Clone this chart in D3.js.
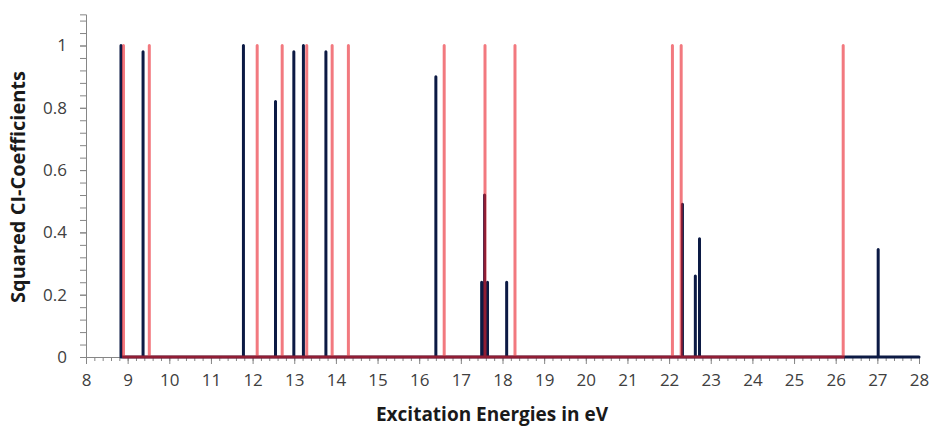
<!DOCTYPE html>
<html>
<head>
<meta charset="utf-8">
<script src="https://cdn.jsdelivr.net/npm/d3@7"></script>
<style>
  body { margin: 0; background: #fff; }
  text { font-family: "Open Sans", "Noto Sans", sans-serif; }
</style>
</head>
<body>
<div id="chart"></div>
<script>
// navy series: excitation energies (eV) and squared CI coefficients
var navyEnergies = [8.84, 9.37, 11.78, 12.55, 12.99, 13.22, 13.76, 16.40, 17.50, 17.57, 17.64, 18.10, 22.32, 22.63, 22.73, 27.02, 28.0];
var navyCoeffs   = [1.00, 0.98, 1.00, 0.82, 0.98, 1.00, 0.98, 0.90, 0.24, 0.52, 0.24, 0.24, 0.49, 0.26, 0.38, 0.345, 0];

// red series
var redEnergies = [8.90, 9.52, 12.11, 12.71, 13.30, 13.91, 14.30, 16.60, 17.58, 18.30, 22.08, 22.29, 26.18];
var redCoeffs   = [1, 1, 1, 1, 1, 1, 1, 1, 1, 1, 1, 1, 1];

var xTicks = d3.range(8, 29, 1);
var yTicks = [0, 0.2, 0.4, 0.6, 0.8, 1];

var svgWidth = 929, svgHeight = 430;

var svg = d3.select("#chart").append("svg")
  .attr("width", svgWidth)
  .attr("height", svgHeight);

var xScale = d3.scaleLinear().domain([8, 28]).range([86, 919]);
var yScale = d3.scaleLinear().domain([0, 1.1]).range([357, 357 - 311.5 * 1.1]);

var axisColor = "#868686";

// y axis: minor ticks every 0.04 then major labels
var yAxisMinor = d3.axisLeft(yScale)
  .tickValues(d3.range(0, 1.1, 0.04))
  .tickSize(6)
  .tickFormat("");
var gyMinor = svg.append("g")
  .attr("transform", "translate(" + xScale(8) + ",0)")
  .call(yAxisMinor);
gyMinor.select(".domain").attr("stroke", axisColor);
gyMinor.selectAll("line").attr("stroke", axisColor);

var yAxis = d3.axisLeft(yScale)
  .tickValues(yTicks)
  .tickSize(6)
  .tickPadding(13)
  .tickFormat(d3.format("~g"));
var gy = svg.append("g")
  .attr("transform", "translate(" + xScale(8) + ",0)")
  .call(yAxis);
gy.select(".domain").remove();
gy.selectAll("line").attr("stroke", axisColor);
gy.selectAll("text")
  .attr("fill", "#404040")
  .style("font-size", "17px")
  .style("font-family", "'Open Sans', sans-serif");

// x axis
var xAxisMinor = d3.axisBottom(xScale)
  .tickValues(d3.range(8, 28.01, 0.2))
  .tickSize(4)
  .tickFormat("");
var gxMinor = svg.append("g")
  .attr("transform", "translate(0," + yScale(0) + ")")
  .call(xAxisMinor);
gxMinor.select(".domain").attr("stroke", axisColor);
gxMinor.selectAll("line").attr("stroke", axisColor);

var xAxis = d3.axisBottom(xScale)
  .tickValues(xTicks)
  .tickSize(7)
  .tickPadding(10)
  .tickFormat(d3.format("d"));
var gx = svg.append("g")
  .attr("transform", "translate(0," + yScale(0) + ")")
  .call(xAxis);
gx.select(".domain").remove();
gx.selectAll("line").attr("stroke", axisColor);
gx.selectAll("text")
  .attr("fill", "#404040")
  .style("font-size", "17px");

// build spike paths: (x,0) -> (x,v) -> (x,0) for every point
function spikes(xs, vs) {
  var pts = [];
  xs.forEach(function(x, i) {
    pts.push([x, 0]);
    pts.push([x, vs[i]]);
    pts.push([x, 0]);
  });
  return pts;
}

var line = d3.line()
  .x(function(d) { return xScale(d[0]); })
  .y(function(d) { return yScale(d[1]); });

svg.append("path")
  .datum(spikes(navyEnergies, navyCoeffs))
  .attr("d", line)
  .attr("fill", "none")
  .attr("stroke", "#0c1a44")
  .attr("stroke-width", 3)
  .attr("stroke-linejoin", "round")
  .attr("stroke-linecap", "round");

svg.append("path")
  .datum(spikes(redEnergies, redCoeffs))
  .attr("d", line)
  .attr("fill", "none")
  .attr("stroke", "rgb(234,32,42)")
  .attr("stroke-opacity", 0.6)
  .attr("stroke-width", 3)
  .attr("stroke-linejoin", "round")
  .attr("stroke-linecap", "round");

// axis titles
svg.append("text")
  .attr("x", 492)
  .attr("y", 421)
  .attr("text-anchor", "middle")
  .attr("fill", "#1a1a1a")
  .style("font-size", "19px")
  .style("font-weight", "700")
  .text("Excitation Energies in eV");

svg.append("text")
  .attr("transform", "translate(25," + 187 + ") rotate(-90)")
  .attr("text-anchor", "middle")
  .attr("fill", "#1a1a1a")
  .style("font-size", "20px")
  .style("font-weight", "700")
  .text("Squared CI-Coefficients");
</script>
</body>
</html>
